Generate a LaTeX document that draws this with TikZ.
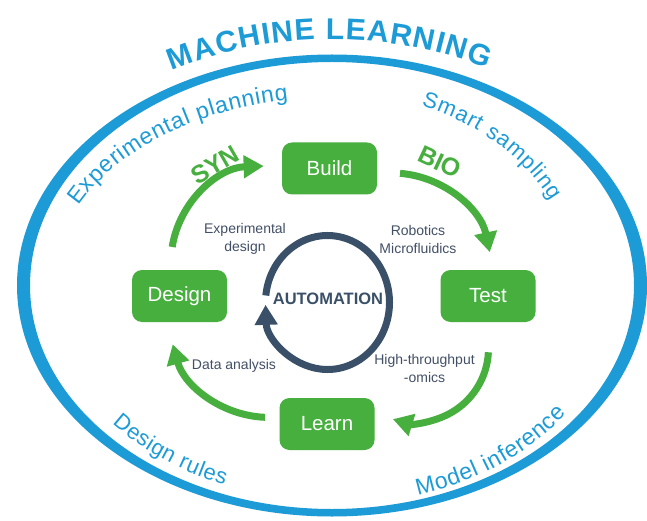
\documentclass[tikz,border=0pt]{standalone}
\usepackage{fontspec}
\setmainfont{Liberation Sans}
\usetikzlibrary{arrows.meta,decorations.text}

\definecolor{mlblue}{RGB}{29,155,215}
\definecolor{mlgreen}{RGB}{70,175,62}
\definecolor{slate}{RGB}{58,80,104}
\definecolor{labelgrey}{RGB}{66,80,102}

\begin{document}
\begin{tikzpicture}[x=1pt,y=-1pt,
  stage/.style={fill=mlgreen, rounded corners=10pt, minimum width=95pt,
    minimum height=52pt, inner sep=0pt, text=white,
    font=\fontsize{20.5}{24}\selectfont},
  smallnote/.style={text=labelgrey, font=\fontsize{14}{18}\selectfont,
    align=center, inner sep=0pt},
  loopArrow/.style={draw=mlgreen, line width=7pt,
    -{Triangle[length=20pt,width=22pt]}},
  phase/.style={text=mlgreen, font=\bfseries\fontsize{25}{25}\selectfont,
    inner sep=0pt},
  arctext/.style={decorate, decoration={text along path,
    text align={fit to path}, text color=mlblue, text={#1}}}
]
\fill[white] (0,0) rectangle (647,521);
\useasboundingbox (0,0) rectangle (647,521);

% outer machine-learning ring
\coordinate (ctr) at (332,285.5);
\fill[mlblue, even odd rule] (ctr) ellipse[x radius=315, y radius=231]
  (ctr) ellipse[x radius=302, y radius=223.5];

% curved titles
\path[arctext={|\bfseries\fontsize{30}{31}\selectfont|MACHINE LEARNING}]
  ([shift={(241:330 and 246)}]ctr) arc[start angle=241, end angle=298, x radius=330, y radius=246];
\path[arctext={|\fontsize{23}{25}\selectfont|Experimental planning}]
  ([shift={(205:280 and 188)}]ctr) arc[start angle=205, end angle=261, x radius=280, y radius=188];
\path[arctext={|\fontsize{22}{24}\selectfont|Smart sampling}]
  ([shift={(291.5:244 and 193)}]ctr) arc[start angle=291.5, end angle=334, x radius=244, y radius=193];
\path[arctext={|\fontsize{22}{24}\selectfont|Design rules}]
  ([shift={(140:287 and 215)}]ctr) arc[start angle=140, end angle=112, x radius=287, y radius=215];
\path[arctext={|\fontsize{23}{25}\selectfont|Model inference}]
  ([shift={(72.7:289 and 220)}]ctr) arc[start angle=72.7, end angle=35.7, x radius=289, y radius=220];

% DBTL stages
\node[stage] (build)  at (329.5,168.5) {Build};
\node[stage] (design) at (179.5,296)   {Design};
\node[stage] (test)   at (488,296)     {Test};
\node[stage] (learn)  at (327,424)     {Learn};

% cycle arrows
\coordinate (synC) at (267,262);
\coordinate (bioC) at (392,273);
\coordinate (omC)  at (414.5,348.4);
\coordinate (daC)  at (269,317.4);
\draw[loopArrow] ([shift={(189:96)}]synC) arc[start angle=189, end angle=268, radius=96];
\draw[loopArrow] ([shift={(274.6:100)}]bioC) arc[start angle=274.6, end angle=348, radius=100];
\draw[loopArrow] ([shift={(3:74)}]omC) arc[start angle=3, end angle=107, radius=74];
\draw[loopArrow] ([shift={(92.3:100)}]daC) arc[start angle=92.3, end angle=164.4, radius=100];

\node[phase, rotate=30]  (syn) at (215,165) {SYN};
\node[phase, rotate=-25] (bio) at (440,162) {BIO};

% automation loop
\coordinate (autoC) at (327.5,302.5);
\draw[slate, line width=7pt, -{Triangle[length=20pt,width=22pt]}]
  ([shift={(186:62 and 67)}]autoC) arc[start angle=186, end angle=538, x radius=62, y radius=67];
\node[text=slate, font=\bfseries\fontsize{16.5}{18}\selectfont, inner sep=0pt]
  (auto) at (328,298.5) {AUTOMATION};

% step annotations
\node[smallnote] (expd) at (245,239) {Experimental\\design};
\node[smallnote] (robo) at (418,239) {Robotics\\Microfluidics};
\node[smallnote] (data) at (234,366) {Data analysis};
\node[smallnote] (omic) at (424.5,368) {High-throughput\\-omics};
\end{tikzpicture}
\end{document}
